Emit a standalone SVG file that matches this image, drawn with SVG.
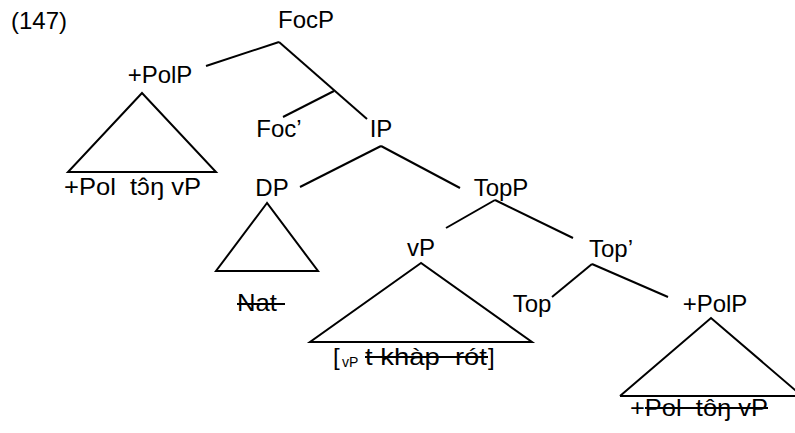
<svg xmlns="http://www.w3.org/2000/svg" width="795" height="433" viewBox="0 0 795 433">
  <style>
    text { font-family: "Liberation Sans", Arial, sans-serif; font-size: 24px; fill: #000; white-space: pre; }
    .m { text-anchor: middle; }
    .sub { font-size: 14px; }
    line, polygon, polyline { stroke: #000; stroke-width: 2; fill: none; }
    .strike { stroke-width: 1.8; }
  </style>
  <rect width="795" height="433" fill="#fff"/>

  <text x="11" y="29">(147)</text>

  <g id="connectors">
    <!-- FocP -->
    <line x1="279" y1="42" x2="206" y2="66"/>
    <line x1="279" y1="42" x2="367" y2="119"/>
    <line x1="334" y1="91" x2="283" y2="117"/>
    <!-- IP -->
    <line x1="381" y1="146" x2="300" y2="187"/>
    <line x1="381" y1="146" x2="460" y2="188"/>
    <!-- TopP -->
    <line x1="495" y1="200" x2="446" y2="228"/>
    <line x1="495" y1="200" x2="573" y2="238"/>
    <!-- Top' -->
    <line x1="592" y1="264" x2="552" y2="297"/>
    <line x1="592" y1="264" x2="668" y2="297"/>
  </g>

  <g id="FocP"><text class="m" x="306" y="28">FocP</text></g>

  <g id="PolP-upper">
    <text class="m" x="160" y="83">+PolP</text>
    <polygon points="142,93 68,172 216,172"/>
    <text x="64" y="195" textLength="137" lengthAdjust="spacingAndGlyphs">+Pol  tɔ̂ŋ vP</text>
  </g>

  <g id="FocBar"><text class="m" x="279" y="137">Foc’</text></g>
  <g id="IP"><text class="m" x="381" y="137">IP</text></g>

  <g id="DP">
    <text class="m" x="272" y="196">DP</text>
    <polygon points="267,203 216,271 318,271"/>
    <text x="237" y="311" textLength="40" lengthAdjust="spacingAndGlyphs">Nat</text>
    <line class="strike" x1="237" y1="304" x2="285" y2="304"/>
  </g>

  <g id="TopP"><text class="m" x="501" y="196">TopP</text></g>

  <g id="vP">
    <text class="m" x="421" y="256">vP</text>
    <polygon points="421,263 310,342 532,342"/>
    <text x="333" y="365">[</text>
    <text class="sub" x="342" y="367">vP</text>
    <text x="365" y="365" textLength="122" lengthAdjust="spacingAndGlyphs">t khàp  rót</text>
    <text x="488" y="365">]</text>
    <line class="strike" x1="365" y1="357" x2="488" y2="357"/>
  </g>

  <g id="TopBar"><text class="m" x="611" y="257">Top’</text></g>
  <g id="Top"><text class="m" x="532" y="312">Top</text></g>

  <g id="PolP-lower">
    <text class="m" x="715" y="312">+PolP</text>
    <polyline points="620,396 711,318 802,396"/>
    <line x1="620" y1="396" x2="795" y2="396"/>
    <text x="630" y="416" textLength="138" lengthAdjust="spacingAndGlyphs">+Pol  tôŋ vP</text>
    <line class="strike" x1="645" y1="408" x2="768" y2="408"/>
  </g>
</svg>
